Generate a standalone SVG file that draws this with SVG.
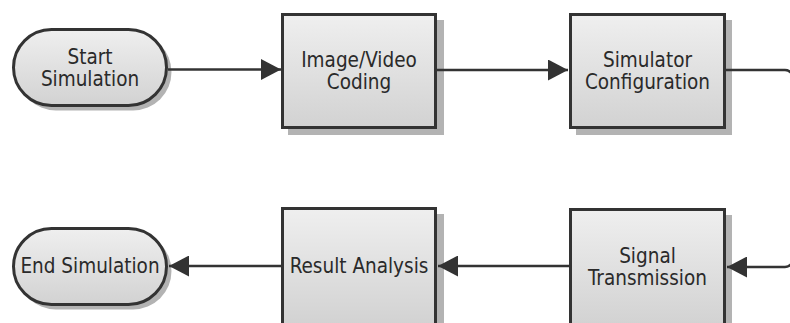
<svg xmlns="http://www.w3.org/2000/svg" width="790" height="323" viewBox="0 0 790 323">
<defs>
<linearGradient id="g" x1="0" y1="0" x2="0" y2="1">
<stop offset="0" stop-color="#efefef"/>
<stop offset="1" stop-color="#d2d2d2"/>
</linearGradient>
<marker id="ah" viewBox="0 0 20 21" refX="20" refY="10.5" markerWidth="20" markerHeight="21" markerUnits="userSpaceOnUse" orient="auto">
<path d="M0,0 L20,10.5 L0,21 Z" fill="#333333"/>
</marker>
<style>
.shape{fill:url(#g);stroke:#333333;stroke-width:3}
.shadow{fill:#b3b3b3}
.lbl{font-family:"DejaVu Sans Condensed","DejaVu Sans",sans-serif;font-size:20.5px;fill:#2a2a2a;text-anchor:middle}
.conn{fill:none;stroke:#333333;stroke-width:2.5}
</style>
</defs>
<g id="start">
<rect class="shadow" x="17.5" y="33.5" width="154" height="77" rx="38.5"/>
<rect class="shape" x="13.5" y="29.5" width="153" height="76" rx="38"/>
<text class="lbl" x="90" y="63.5">Start</text>
<text class="lbl" x="90" y="85.5">Simulation</text>
</g>
<g id="coding">
<rect class="shadow" x="288" y="20" width="156" height="115"/>
<rect class="shape" x="282.5" y="14.5" width="153" height="113"/>
<text class="lbl" x="359" y="67">Image/Video</text>
<text class="lbl" x="359" y="89">Coding</text>
</g>
<g id="config">
<rect class="shadow" x="576" y="20" width="156" height="115"/>
<rect class="shape" x="570.5" y="14.5" width="154" height="113"/>
<text class="lbl" x="647.5" y="67">Simulator</text>
<text class="lbl" x="647.5" y="89">Configuration</text>
</g>
<g id="transmission">
<rect class="shadow" x="576" y="215" width="156" height="115"/>
<rect class="shape" x="570.5" y="209.5" width="154" height="116"/>
<text class="lbl" x="647.5" y="263">Signal</text>
<text class="lbl" x="647.5" y="285">Transmission</text>
</g>
<g id="analysis">
<rect class="shadow" x="288" y="214" width="156" height="115"/>
<rect class="shape" x="282.5" y="208.5" width="153" height="116"/>
<text class="lbl" x="359" y="273">Result Analysis</text>
</g>
<g id="end">
<rect class="shadow" x="17.5" y="232.5" width="154" height="77" rx="38.5"/>
<rect class="shape" x="13.5" y="228.5" width="153" height="76" rx="38"/>
<text class="lbl" x="90" y="273">End Simulation</text>
</g>
<g id="connectors">
<path class="conn" d="M168,69.5 H281" marker-end="url(#ah)"/>
<path class="conn" d="M437,70 H568" marker-end="url(#ah)"/>
<path class="conn" d="M726,70 H785 A8,8 0 0 1 793,78 V259 A8,8 0 0 1 785,267 H727" marker-end="url(#ah)"/>
<path class="conn" d="M569,266 H438" marker-end="url(#ah)"/>
<path class="conn" d="M281,266 H169" marker-end="url(#ah)"/>
</g>
</svg>
